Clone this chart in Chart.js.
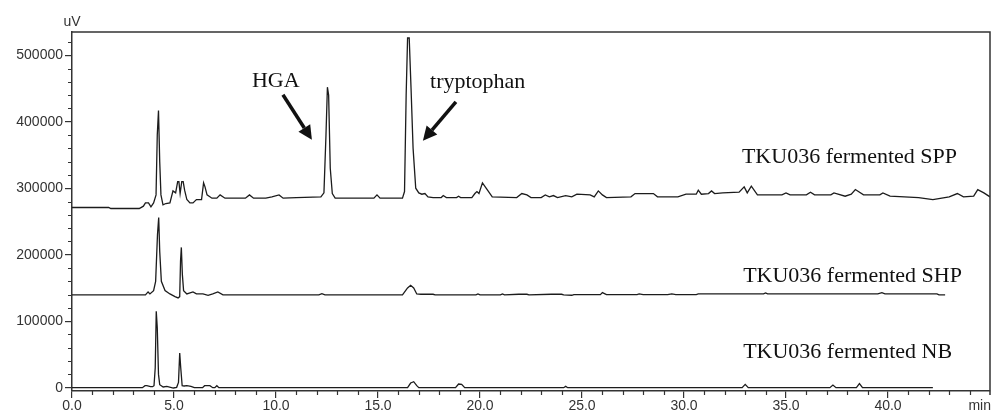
<!DOCTYPE html>
<html>
<head>
<meta charset="utf-8">
<script src="https://cdn.jsdelivr.net/npm/chart.js@4/dist/chart.umd.min.js"></script>
<style>
  html, body { margin: 0; padding: 0; background: #fff; }
  #wrap { width: 992px; height: 414px; }
</style>
</head>
<body>
<div id="wrap"><canvas id="chart" width="992" height="414"></canvas></div>
<script>
// --- axis ticks ---
const xTickValues = [0, 5, 10, 15, 20, 25, 30, 35, 40];
const xTickLabels = ['0.0', '5.0', '10.0', '15.0', '20.0', '25.0', '30.0', '35.0', '40.0'];
const yTickValues = [0, 100000, 200000, 300000, 400000, 500000];
const yTickLabels = ['0', '100000', '200000', '300000', '400000', '500000'];

// --- traces: [retention time (min), signal (uV)] ---
const sppTrace = [
  [0, 271000], [1.8, 271000], [1.9, 269500], [3.3, 269500],
  [3.5, 273000], [3.6, 278000], [3.75, 278000], [3.87, 272000], [4.0, 278000],
  [4.12, 290000], [4.18, 380000], [4.24, 417000], [4.3, 340000], [4.36, 290000], [4.46, 275000],
  [4.6, 277000], [4.8, 278000], [4.95, 296000], [5.08, 293000], [5.18, 310000],
  [5.24, 310000], [5.3, 292000], [5.38, 310000], [5.45, 310000], [5.52, 297000],
  [5.63, 283000], [5.78, 278000], [5.93, 278000], [6.1, 283000], [6.35, 283000],
  [6.45, 308000], [6.52, 302000], [6.62, 290000], [6.86, 285000], [7.1, 285000],
  [7.26, 290000], [7.5, 285000], [8.5, 285000], [8.7, 290000], [8.9, 285000],
  [9.5, 285000], [9.8, 287000], [10.15, 290000], [10.35, 285000], [11.0, 286000],
  [12.2, 287000], [12.35, 293000], [12.45, 380000], [12.52, 452000], [12.58, 440000],
  [12.66, 330000], [12.76, 292000], [12.9, 285000], [14.8, 285000], [14.95, 290000],
  [15.1, 285000], [16.2, 285000], [16.3, 295000], [16.38, 440000], [16.45, 526000],
  [16.53, 526000], [16.62, 450000], [16.72, 360000], [16.85, 300000], [17.0, 293000],
  [17.15, 291000], [17.3, 292000], [17.45, 287000], [17.7, 286000], [18.1, 286000],
  [18.2, 289000], [18.35, 286000], [18.85, 286000], [18.95, 288000], [19.05, 286000],
  [19.6, 286000], [19.75, 292000], [19.85, 295000], [19.95, 292000], [20.12, 308000],
  [20.3, 300000], [20.6, 287000], [21.8, 286000], [22.05, 292000], [22.3, 290000],
  [22.5, 286000], [23.0, 286000], [23.2, 290000], [23.4, 287000], [23.6, 289000],
  [23.8, 286000], [24.2, 289000], [24.5, 287000], [24.75, 291000], [25.4, 290000],
  [25.6, 287000], [25.8, 296000], [26.0, 290000], [26.2, 286000], [27.4, 287000],
  [27.6, 292000], [28.5, 292000], [28.7, 287000], [29.7, 287000], [30.1, 291000],
  [30.6, 291000], [30.7, 297000], [30.85, 291000], [31.2, 292000], [31.35, 296000],
  [31.5, 292000], [31.9, 293000], [32.7, 294000], [32.95, 302000], [33.1, 293000],
  [33.3, 303000], [33.6, 290000], [34.8, 290000], [35.0, 293000], [35.2, 290000],
  [36.0, 290000], [36.2, 294000], [36.4, 290000], [37.2, 290000], [37.35, 293000],
  [37.9, 288000], [38.2, 291000], [38.4, 298000], [38.8, 290000], [39.6, 290000],
  [39.75, 293000], [40.1, 288000], [41.5, 286000], [42.2, 283000], [43.0, 287000],
  [43.4, 292000], [43.7, 287000], [44.2, 288000], [44.4, 298000], [44.7, 293000],
  [45.0, 287000]
];

const shpTrace = [
  [0, 139500], [3.6, 139500], [3.73, 144000], [3.82, 141000], [4.0, 146000],
  [4.1, 160000], [4.19, 230000], [4.25, 256000], [4.3, 205000], [4.38, 160000],
  [4.56, 146000], [4.8, 141000], [5.05, 137000], [5.2, 135000], [5.28, 137000],
  [5.32, 190000], [5.36, 211000], [5.41, 170000], [5.47, 146000], [5.63, 141000],
  [5.93, 144000], [6.1, 141000], [6.42, 141000], [6.67, 139000], [6.9, 141000],
  [7.15, 144000], [7.4, 139500], [12.1, 139500], [12.25, 141500], [12.4, 139500],
  [16.2, 139500], [16.45, 150000], [16.6, 154000], [16.75, 150000], [16.9, 141000],
  [17.1, 140500], [17.7, 140500], [17.8, 139500], [19.8, 139500], [19.9, 141000],
  [20.0, 139500], [21.0, 139500], [21.1, 141000], [21.2, 139500], [21.9, 140500],
  [22.3, 140500], [22.4, 139500], [23.5, 140500], [24.0, 140500], [24.1, 139500],
  [24.5, 139000], [24.6, 140000], [25.9, 140000], [26.0, 143000], [26.2, 140000],
  [27.7, 140000], [27.8, 141000], [28.0, 140000], [29.2, 140000], [29.4, 141000],
  [29.6, 140000], [30.6, 140000], [30.7, 141000], [33.9, 141000], [34.0, 142500],
  [34.1, 141000], [39.5, 141000], [39.7, 143000], [39.85, 141000], [42.4, 141000],
  [42.5, 139500], [42.8, 139500]
];

const nbTrace = [
  [0, 0], [3.45, 0], [3.58, 3000], [3.67, 3000], [3.85, 1500], [3.95, 1500],
  [4.02, 3000], [4.08, 30000], [4.13, 115000], [4.18, 90000], [4.24, 20000],
  [4.3, 4500], [4.47, 1000], [4.65, 2000], [4.97, -500], [5.13, 500], [5.22, 8000],
  [5.28, 52000], [5.33, 30000], [5.4, 3000], [5.5, 2500], [5.63, 3000], [5.83, 2000],
  [6.0, 0], [6.4, 0], [6.5, 3000], [6.76, 3000], [6.9, 0], [7.0, 0], [7.1, 3000],
  [7.2, 0], [16.45, 0], [16.6, 7000], [16.75, 9000], [16.9, 3000], [17.0, 0],
  [18.8, 0], [18.95, 5500], [19.1, 5000], [19.25, 0], [24.1, 0], [24.2, 2000],
  [24.3, 0], [32.85, 0], [33.0, 5000], [33.15, 0], [37.15, 0], [37.3, 4000],
  [37.45, 0], [38.45, 0], [38.6, 6000], [38.75, 0], [42.2, 0]
];

// --- text on the plot, anchored in data units ---
const labels = [
  { text: 'TKU036 fermented SPP', x: 32.84, y: 338400 },
  { text: 'TKU036 fermented SHP', x: 32.9, y: 159400 },
  { text: 'TKU036 fermented NB', x: 32.9, y: 45100 },
  { text: 'HGA', x: 8.82, y: 452600 },
  { text: 'tryptophan', x: 17.55, y: 451000 }
];
const arrows = [
  { from: [10.34, 440600], to: [11.76, 373000] },
  { from: [18.82, 430000], to: [17.2, 371400] }
];

const AXIS_FONT = { family: '"Liberation Sans", Arial, sans-serif', size: 14 };
const AXIS_COLOR = '#333';

const toPoints = tr => tr.map(p => ({ x: p[0], y: p[1] }));
const traceStyle = {
  showLine: true, pointRadius: 0, borderColor: '#1c1c1c', borderWidth: 1.3,
  tension: 0, fill: false
};

// frame, minor ticks, unit labels, annotations
const decorations = {
  id: 'decorations',
  afterDraw(chart) {
    const { ctx, chartArea: a, scales: { x, y } } = chart;
    ctx.save();
    ctx.strokeStyle = '#333';
    ctx.lineWidth = 1.5;
    ctx.beginPath();
    ctx.moveTo(a.left, a.top); ctx.lineTo(a.right, a.top); ctx.lineTo(a.right, a.bottom + 4);
    ctx.stroke();

    // minor ticks
    ctx.lineWidth = 1.2;
    ctx.beginPath();
    for (let v = 20000; v <= 520000; v += 20000) {
      if (v % 100000 === 0) continue;
      const py = Math.round(y.getPixelForValue(v)) + 0.5;
      ctx.moveTo(a.left - 4, py); ctx.lineTo(a.left, py);
    }
    for (let t = 1; t <= 44; t++) {
      if (t % 5 === 0) continue;
      const px = Math.round(x.getPixelForValue(t)) + 0.5;
      ctx.moveTo(px, a.bottom); ctx.lineTo(px, a.bottom + 4);
    }
    ctx.stroke();

    ctx.fillStyle = AXIS_COLOR;
    ctx.font = '14px "Liberation Sans", Arial, sans-serif';
    ctx.textBaseline = 'middle';
    ctx.textAlign = 'center';
    ctx.fillText('uV', a.left, 22);
    ctx.textAlign = 'right';
    ctx.fillText('min', a.right + 1, 406);

    // annotations
    ctx.fillStyle = '#111';
    ctx.font = '22px "Liberation Serif", "Times New Roman", serif';
    ctx.textAlign = 'left';
    ctx.textBaseline = 'alphabetic';
    labels.forEach(l => ctx.fillText(l.text, x.getPixelForValue(l.x), y.getPixelForValue(l.y)));

    ctx.strokeStyle = '#111';
    ctx.lineWidth = 3.5;
    arrows.forEach(ar => {
      const x0 = x.getPixelForValue(ar.from[0]), y0 = y.getPixelForValue(ar.from[1]);
      const x1 = x.getPixelForValue(ar.to[0]), y1 = y.getPixelForValue(ar.to[1]);
      const ang = Math.atan2(y1 - y0, x1 - x0);
      const head = 14, half = 7;
      const bx = x1 - head * Math.cos(ang), by = y1 - head * Math.sin(ang);
      ctx.beginPath();
      ctx.moveTo(x0, y0); ctx.lineTo(bx, by);
      ctx.stroke();
      ctx.beginPath();
      ctx.moveTo(x1, y1);
      ctx.lineTo(bx + half * Math.sin(ang), by - half * Math.cos(ang));
      ctx.lineTo(bx - half * Math.sin(ang), by + half * Math.cos(ang));
      ctx.closePath();
      ctx.fill();
    });
    ctx.restore();
  }
};

new Chart(document.getElementById('chart'), {
  type: 'scatter',
  data: {
    datasets: [
      { label: 'SPP', data: toPoints(sppTrace), ...traceStyle },
      { label: 'SHP', data: toPoints(shpTrace), ...traceStyle },
      { label: 'NB', data: toPoints(nbTrace), ...traceStyle }
    ]
  },
  options: {
    responsive: false,
    devicePixelRatio: 1,
    animation: false,
    layout: { padding: { left: 0, top: 32, right: 2, bottom: 0 } },
    plugins: { legend: { display: false }, tooltip: { enabled: false } },
    scales: {
      x: {
        type: 'linear', min: 0, max: 45,
        afterBuildTicks: s => { s.ticks = xTickValues.map(v => ({ value: v })); },
        afterFit: s => { s.height = 23; },
        ticks: {
          callback: (v, i) => xTickLabels[i],
          font: AXIS_FONT, color: AXIS_COLOR, padding: 0,
          maxRotation: 0, autoSkip: false
        },
        grid: { drawOnChartArea: false, tickLength: 7, color: '#333', lineWidth: 1.2 },
        border: { display: true, color: '#333', width: 1.5 }
      },
      y: {
        type: 'linear', min: -5000, max: 535000,
        afterBuildTicks: s => { s.ticks = yTickValues.map(v => ({ value: v })); },
        afterFit: s => { s.width = 72; },
        ticks: {
          callback: (v, i) => yTickLabels[i],
          font: AXIS_FONT, color: AXIS_COLOR, padding: 2, autoSkip: false
        },
        grid: { drawOnChartArea: false, tickLength: 7, color: '#333', lineWidth: 1.2 },
        border: { display: true, color: '#333', width: 1.5 }
      }
    }
  },
  plugins: [decorations]
});
</script>
</body>
</html>
